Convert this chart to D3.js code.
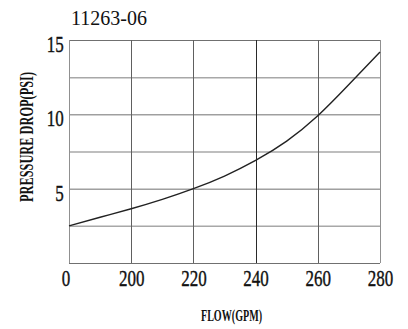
<!DOCTYPE html>
<html>
<head>
<meta charset="utf-8">
<script src="https://cdn.jsdelivr.net/npm/d3@7"></script>
<style>
  body { margin: 0; background: #fff; }
  svg { display: block; }
</style>
</head>
<body>
<div id="chart"></div>
<script>
const chartTitle = "11263-06";
const xTitle = "FLOW(GPM)";
const yTitle = "PRESSURE DROP(PSI)";

const flow = [180, 190, 200, 210, 220, 230, 240, 250, 260, 270, 280];
const pressureDrop = [2.5, 3.08, 3.65, 4.28, 5.0, 5.85, 6.9, 8.2, 9.9, 12.0, 14.2];

const xTicks = [180, 200, 220, 240, 260, 280];
const xTickLabels = ["0", "200", "220", "240", "260", "280"];
const yGrid = [0, 2.5, 5, 7.5, 10, 12.5, 15];
const yTicks = [5, 10, 15];

const width = 408, height = 329;
const margin = { top: 40, right: 28, bottom: 66, left: 69 };

const svg = d3.select("#chart").append("svg")
  .attr("width", width)
  .attr("height", height);

const x = d3.scaleLinear()
  .domain([180, 280])
  .range([margin.left, width - margin.right]);

const y = d3.scaleLinear()
  .domain([0, 15])
  .range([height - margin.bottom, margin.top]);

// grid
svg.append("g")
  .selectAll("line")
  .data(yGrid)
  .enter()
  .append("line")
  .attr("x1", x(180))
  .attr("x2", x(280))
  .attr("y1", d => y(d) + 0.5)
  .attr("y2", d => y(d) + 0.5)
  .attr("stroke", d => d % 5 === 0 ? "#707070" : "#a8a8a8")
  .attr("stroke-width", d => d % 5 === 0 ? 1 : 1.5);

svg.append("g")
  .selectAll("line")
  .data(xTicks)
  .enter()
  .append("line")
  .attr("x1", d => Math.round(x(d)) + 0.5)
  .attr("x2", d => Math.round(x(d)) + 0.5)
  .attr("y1", y(15))
  .attr("y2", y(0))
  .attr("stroke", d => d === 240 ? "#2a2a2a" : (d === 180 || d === 280 ? "#909090" : "#606060"))
  .attr("stroke-width", 1);

// x axis
const xAxis = d3.axisBottom(x)
  .tickValues(xTicks)
  .tickFormat((d, i) => xTickLabels[i])
  .tickSize(0)
  .tickPadding(0);

const xAxisGroup = svg.append("g")
  .attr("transform", `translate(0, ${y(0)})`)
  .call(xAxis);

xAxisGroup.select(".domain").remove();
xAxisGroup.selectAll(".tick text")
  .attr("y", 23)
  .attr("dy", 0)
  .style("font-family", "'Liberation Serif', serif")
  .style("font-size", "23px")
  .style("fill", "#111")
  .style("stroke", "#111")
  .style("stroke-width", 0.4)
  .attr("transform", "scale(0.74,1)");
xAxisGroup.selectAll(".tick").filter(d => d === 180)
  .attr("transform", `translate(${x(180) - 3}, 0)`);

// y axis
const yAxis = d3.axisLeft(y)
  .tickValues(yTicks)
  .tickSize(0)
  .tickPadding(0);

const yAxisGroup = svg.append("g")
  .attr("transform", `translate(${x(180)}, 0)`)
  .call(yAxis);

yAxisGroup.select(".domain").remove();
yAxisGroup.selectAll(".tick text")
  .attr("x", -7)
  .attr("dy", "0.42em")
  .style("font-family", "'Liberation Serif', serif")
  .style("font-size", "23px")
  .style("fill", "#111")
  .style("stroke", "#111")
  .style("stroke-width", 0.4)
  .attr("transform", "scale(0.74,1) translate(0,2)");

// curve
const line = d3.line()
  .x((d, i) => x(flow[i]))
  .y(d => y(d))
  .curve(d3.curveNatural);

svg.append("path")
  .datum(pressureDrop)
  .attr("d", line)
  .attr("fill", "none")
  .attr("stroke", "#222")
  .attr("stroke-width", 1.4);

// titles
svg.append("text")
  .attr("x", 71)
  .attr("y", 25)
  .style("font-family", "'Liberation Serif', serif")
  .style("font-size", "20px")
  .style("fill", "#111")
  .text(chartTitle);

svg.append("text")
  .attr("x", 201)
  .attr("y", 321)
  .attr("textLength", 61)
  .attr("lengthAdjust", "spacingAndGlyphs")
  .style("font-family", "'Liberation Serif', serif")
  .style("font-size", "16px")
  .style("font-weight", "bold")
  .style("fill", "#111")
  .text(xTitle);

svg.append("text")
  .attr("transform", "translate(33, 202) rotate(-90)")
  .attr("textLength", 130)
  .attr("lengthAdjust", "spacingAndGlyphs")
  .style("font-family", "'Liberation Serif', serif")
  .style("font-size", "19px")
  .style("font-weight", "bold")
  .style("fill", "#111")
  .text(yTitle);
</script>
</body>
</html>
